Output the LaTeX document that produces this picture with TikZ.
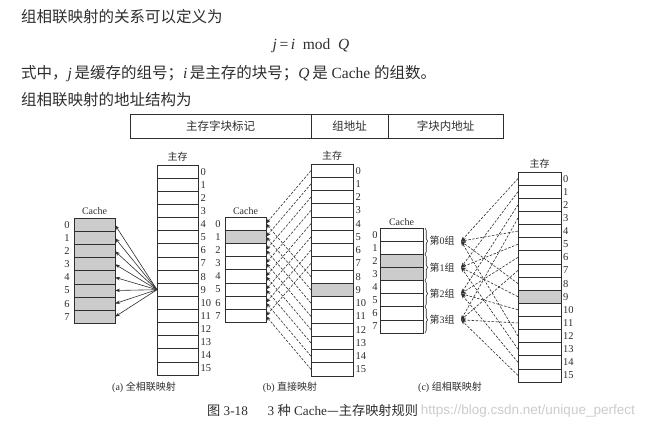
\documentclass[tikz,border=0pt]{standalone}
\usepackage{fontspec}
\setmainfont{Liberation Serif}
\newfontfamily\zhfont{Noto Sans CJK SC}
\newfontfamily\wmfont{Liberation Sans}
\usetikzlibrary{arrows.meta,positioning,decorations.pathreplacing,calc}
\definecolor{ink}{gray}{0.18}
\definecolor{cellgray}{gray}{0.8}
\tikzset{
 cell/.style={draw=ink, line width=0.7pt, minimum height=#1, inner sep=0pt, outer sep=0pt},
 cell/.default=13.125pt,
 num/.style={font=\fontsize{10.5}{11}\selectfont, text=ink, inner sep=0pt},
 lbl/.style={font=\fontsize{10}{11}\selectfont, text=ink, inner sep=0pt},
 solidarr/.style={draw=ink, line width=0.6pt, -{Stealth[length=5pt,width=3.4pt]}},
 dasharr/.style={draw=ink, line width=0.6pt, dash pattern=on 2.5pt off 1.5pt, -{Stealth[length=5pt,width=3.4pt]}},
 body/.style={font=\fontsize{15.5}{18}\selectfont, text=ink, inner sep=0pt, anchor=west},
 tcell/.style={draw=ink, line width=0.7pt, minimum height=24pt, inner sep=0pt, font=\zhfont\fontsize{11.5}{12}\selectfont, text=ink},
 capt/.style={font=\fontsize{10}{11}\selectfont, text=ink, inner sep=0pt},
 brc/.style={draw=ink, line width=0.6pt, decorate, decoration={brace, amplitude=2.5pt}},
 shaded/.style={fill=cellgray, draw=ink, line width=0.7pt},
}
\begin{document}
\begin{tikzpicture}[x=1pt,y=-1pt]
\useasboundingbox (0,0) rectangle (645,437);
\fill[white] (0,0) rectangle (645,437);

% ---------- text lines ----------
\node[body] (l1) at (21,17) {\zhfont 组相联映射的关系可以定义为};
\node[body, anchor=center] (formula) at (311,46) {\textit{j}\,=\,\textit{i}\enspace mod\enspace \textit{Q}};
\node[body] (l3) at (21,74) {{\zhfont 式中，}\textit{j}\,{\zhfont 是缓存的组号；}\textit{i}\,{\zhfont 是主存的块号；}\textit{Q}\,{\zhfont 是} Cache {\zhfont 的组数。}};
\node[body] (l4) at (21,100) {\zhfont 组相联映射的地址结构为};

% ---------- address structure ----------
\node[tcell, minimum width=181pt] (t1) at (220.5,126) {主存字块标记};
\node[tcell, minimum width=77pt]  (t2) at (349.5,126) {组地址};
\node[tcell, minimum width=115pt] (t3) at (445.5,126) {字块内地址};

% ---------- (a) fully associative ----------
\foreach \i in {0,...,7} {
  \node[cell, minimum width=41pt, fill=cellgray] (ac\i) at (94.5,{218.3+13.125*(\i+0.5)}) {};
  \node[num] (acn\i) at (67,{218.3+13.125*(\i+0.5)}) {\i};
}
\node[lbl] (aclbl) at (94.5,211) {Cache};
\foreach \i in {0,...,15} {
  \node[cell, minimum width=41pt] (am\i) at (177.5,{165+13.125*(\i+0.5)}) {};
  \node[num, anchor=west] (amn\i) at (200.5,{165+13.125*(\i+0.5)}) {\i};
}
\node[lbl] (amlbl) at (177.5,157) {\zhfont 主存};
\foreach \i in {0,...,7} \draw[solidarr] (am9.west) -- (ac\i.east);
\node[capt] (capa) at (144,387) {(a) {\zhfont 全相联映射}};

% ---------- (b) direct ----------
\foreach \i in {0,...,7} {
  \node[cell=13.2pt, minimum width=41pt] (bc\i) at (245.5,{217+13.2*(\i+0.5)}) {};
  \node[num] (bcn\i) at (218,{217+13.2*(\i+0.5)}) {\i};
}
\path[shaded] (bc1.north west) rectangle (bc1.south east);
\node[lbl] (bclbl) at (245.5,211) {Cache};
\foreach \i in {0,...,15} {
  \node[cell=13.25pt, minimum width=42pt] (bm\i) at (332,{164+13.25*(\i+0.5)}) {};
  \node[num, anchor=west] (bmn\i) at (355.5,{164+13.25*(\i+0.5)}) {\i};
}
\path[shaded] (bm9.north west) rectangle (bm9.south east);
\node[lbl] (bmlbl) at (332,156) {\zhfont 主存};
\foreach \i in {0,...,15} {
  \pgfmathtruncatemacro\j{mod(\i,8)}
  \draw[dasharr] (bm\i.west) -- (bc\j.east);
}
\node[capt] (capb) at (290,387) {(b) {\zhfont 直接映射}};

% ---------- (c) set associative ----------
\foreach \i in {0,...,7} {
  \node[cell, minimum width=43pt] (cc\i) at (401.5,{228+13.125*(\i+0.5)}) {};
  \node[num] (ccn\i) at (375,{228+13.125*(\i+0.5)}) {\i};
}
\foreach \i in {2,3} {
  \path[shaded] (cc\i.north west) rectangle (cc\i.south east);
}
\node[lbl] (cclbl) at (401.5,222) {Cache};
\foreach \k in {0,...,3} {
  \pgfmathtruncatemacro\a{2*\k}
  \pgfmathtruncatemacro\b{2*\k+1}
  \draw[brc] ([xshift=2pt]cc\a.north east) -- ([xshift=2pt]cc\b.south east);
  \node[lbl] (cgl\k) at (442,{228+13.125*(2*\k+1)}) {{\zhfont 第}\k{\zhfont 组}};
  \coordinate (cg\k) at (461,{228+13.125*(2*\k+1)});
}
\foreach \i in {0,...,15} {
  \node[cell, minimum width=43pt] (cm\i) at (539.5,{172+13.125*(\i+0.5)}) {};
  \node[num, anchor=west] (cmn\i) at (563,{172+13.125*(\i+0.5)}) {\i};
}
\path[shaded] (cm9.north west) rectangle (cm9.south east);
\node[lbl] (cmlbl) at (539.5,164) {\zhfont 主存};
\foreach \i in {0,...,15} {
  \pgfmathtruncatemacro\j{mod(\i,4)}
  \draw[dasharr] (cm\i.west) -- (cg\j);
}
\node[capt] (capc) at (450,387) {(c) {\zhfont 组相联映射}};

% ---------- figure caption + watermark ----------
\node[font=\wmfont\fontsize{13.5}{14}\selectfont, text=gray!40, inner sep=0pt, anchor=east] (wm) at (635,411) {https://blog.csdn.net/unique\_perfect};
\node[font=\fontsize{13.2}{14}\selectfont, text=ink, inner sep=0pt, anchor=west] (fig) at (207,410) {{\zhfont 图} 3-18\quad\enspace 3 {\zhfont 种} Cache{\zhfont —主存映射规则}};
\end{tikzpicture}
\end{document}
